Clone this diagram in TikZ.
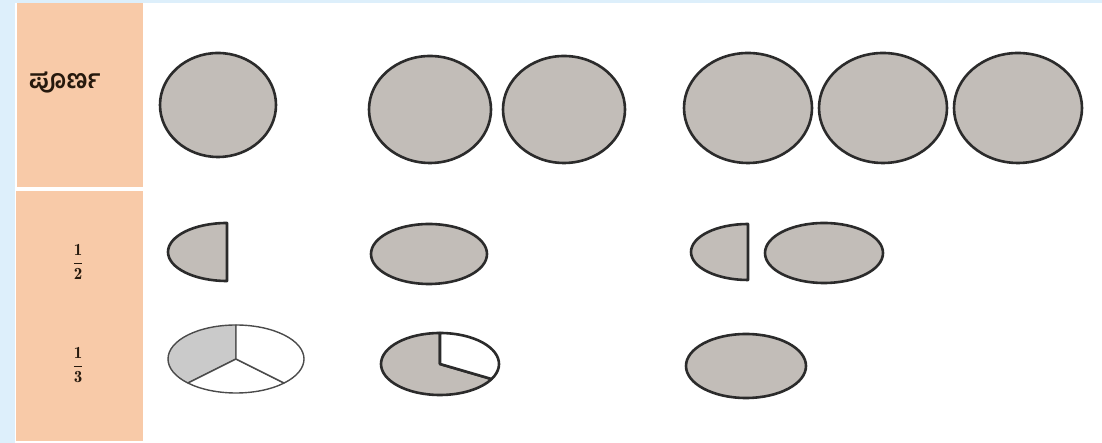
\documentclass[tikz,border=0pt]{standalone}
\usepackage{amsmath}
\usepackage{fontspec}
\newfontfamily\kannadafont[Script=Kannada]{Hind Mysuru}
\usetikzlibrary{positioning}
\definecolor{framebl}{HTML}{DDEFFB}
\definecolor{cellor}{HTML}{F8CAA8}
\definecolor{piegr}{HTML}{C2BDB8}
\definecolor{pielt}{HTML}{CACACA}
\definecolor{rim}{HTML}{2B2B2B}
\tikzset{
  whole/.style={fill=piegr, draw=rim, line width=2.6pt},
  part/.style={fill=piegr, draw=rim, line width=2.6pt, line join=round},
  thin/.style={draw=rim!85, line width=1.4pt, line join=round},
  lbl/.style={text=black!80!brown, inner sep=0pt}}

\begin{document}
\begin{tikzpicture}[x=1pt,y=1pt]
  \fill[framebl] (0,0) rectangle (1102,443);
  \fill[white] (15,0) rectangle (1102,440);
  \fill[cellor] (17,256) rectangle (143,440);
  \fill[cellor] (16,2) rectangle (143,252);
    \coordinate (c1) at (218,338);
    \coordinate (c2) at (430,333.5);
    \coordinate (c3) at (564,333.5);
    \coordinate (c4) at (748,335);
    \coordinate (c5) at (883,335);
    \coordinate (c6) at (1018,335);
    \coordinate (h1) at (227,191);
    \coordinate (e2) at (429,189);
    \coordinate (h3) at (748,191);
    \coordinate (e3) at (824,190);
    \coordinate (p1) at (236,84);
    \coordinate (p2) at (440,79);
    \coordinate (e4) at (746,77);
  \node[lbl, anchor=west] (whole) at (29,360) {\kannadafont\bfseries\fontsize{26}{30}\selectfont ಪೂರ್ಣ};
  \node[lbl] (half) at (78,181) {\fontsize{17}{20}\selectfont$\displaystyle\frac{\mathbf{1}}{\mathbf{2}}$};
  \node[lbl] (third) at (78,78) {\fontsize{17}{20}\selectfont$\displaystyle\frac{\mathbf{1}}{\mathbf{3}}$};
       \draw [whole] (c1) ellipse [x radius=58, y radius=52];
       \draw [whole] (c2) ellipse [x radius=61, y radius=53.5];
       \draw [whole] (c3) ellipse [x radius=61, y radius=53.5];
       \draw [whole] (c4) ellipse [x radius=64, y radius=55];
       \draw [whole] (c5) ellipse [x radius=64, y radius=55];
       \draw [whole] (c6) ellipse [x radius=64, y radius=55];
       \draw [part] ([yshift=29]h1) arc [start angle=90, end angle=270, x radius=59, y radius=29] -- cycle;
       \draw [whole] (e2) ellipse [x radius=58, y radius=30];
       \draw [part] ([yshift=28]h3) arc [start angle=90, end angle=270, x radius=57, y radius=28] -- cycle;
       \draw [whole] (e3) ellipse [x radius=59, y radius=30];
      \draw [thin, fill=pielt] (p1) -- ++(90:0 and 34) arc [start angle=90, end angle=225, x radius=68, y radius=34] -- cycle;
      \draw [thin, fill=white] (p1) -- ++(225:68 and 34) arc [start angle=225, end angle=315, x radius=68, y radius=34] -- cycle;
      \draw [thin, fill=white] (p1) -- ++(315:68 and 34) arc [start angle=315, end angle=450, x radius=68, y radius=34] -- cycle;
      \draw [part] (p2) -- ++(90:0 and 31) arc [start angle=90, end angle=331, x radius=59, y radius=31] -- cycle;
      \draw [part, fill=white] (p2) -- ++(331:59 and 31) arc [start angle=331, end angle=450, x radius=59, y radius=31] -- cycle;
       \draw [whole] (e4) ellipse [x radius=60, y radius=32];
\end{tikzpicture}
\end{document}
